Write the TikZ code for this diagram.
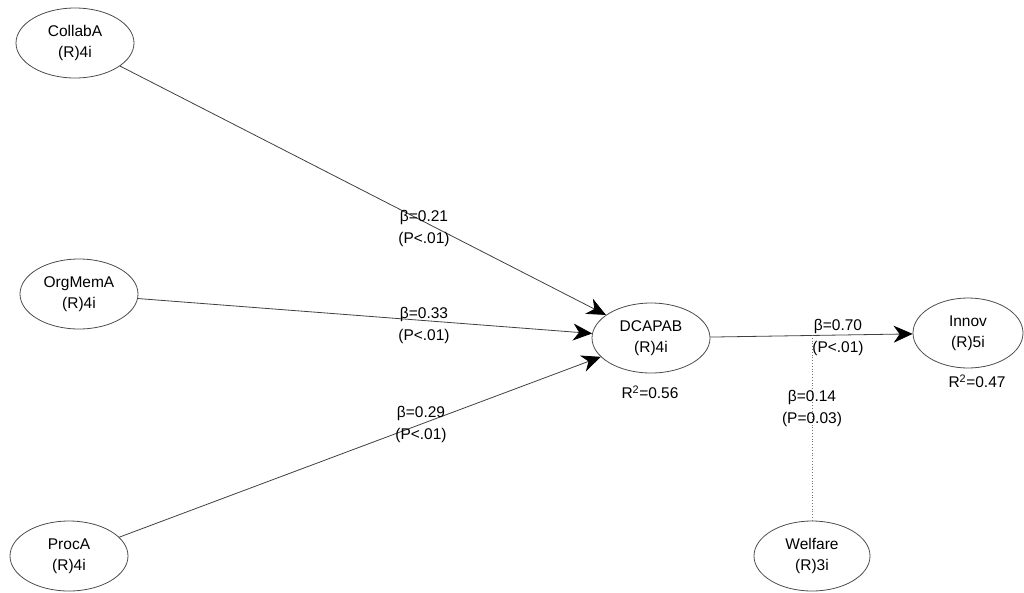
\documentclass[tikz,border=0pt]{standalone}
\usepackage{fontspec}
\setmainfont{Liberation Sans}
\usetikzlibrary{shapes.geometric,arrows.meta}
\begin{document}
\begin{tikzpicture}[x=1pt,y=-1pt,
  lv/.style={ellipse,draw=black!70,line width=0.8pt,minimum width=118pt,minimum height=70pt,inner sep=0pt,align=center,font=\fontsize{15.5}{21}\selectfont},
  path/.style={draw=black!75,line width=0.8pt,-{Stealth[length=19pt,width=17pt,inset=6pt,color=black]}},
  welf/.style={draw=black!55,line width=0.8pt,dotted},
  lab/.style={align=center,inner sep=0pt,font=\fontsize{15.5}{22}\selectfont},
  rsq/.style={inner sep=0pt,font=\fontsize{15.5}{18}\selectfont}]
\useasboundingbox (0,0) rectangle (1024,592);
\node[lv] (collab) at (75,43) {CollabA\\(R)4i};
\node[lv] (orgmem) at (79,294) {OrgMemA\\(R)4i};
\node[lv] (proc) at (69,556) {ProcA\\(R)4i};
\node[lv] (dcap) at (651,338) {DCAPAB\\(R)4i};
\node[lv,minimum width=110pt] (innov) at (968,333) {Innov\\(R)5i};
\node[lv,minimum width=116pt] (welfare) at (812,556) {Welfare\\(R)3i};
\coordinate (wj) at (812,335);
\draw[path] (collab) -- (dcap);
\draw[path] (orgmem) -- (dcap);
\draw[path] (proc) -- (dcap);
\draw[path] (dcap) -- (innov);
\draw[welf] (welfare) -- (wj);
\node[lab] (l1) at (424,228) {β=0.21\\(P<.01)};
\node[lab] (l2) at (424,325) {β=0.33\\(P<.01)};
\node[lab] (l3) at (421,424) {β=0.29\\(P<.01)};
\node[lab] (l4) at (838,337) {β=0.70\\(P<.01)};
\node[lab] (l5) at (812,408) {β=0.14\\(P=0.03)};
\node[rsq] (r1) at (650,392) {R\textsuperscript{2}=0.56};
\node[rsq] (r2) at (977,381) {R\textsuperscript{2}=0.47};
\end{tikzpicture}
\end{document}
